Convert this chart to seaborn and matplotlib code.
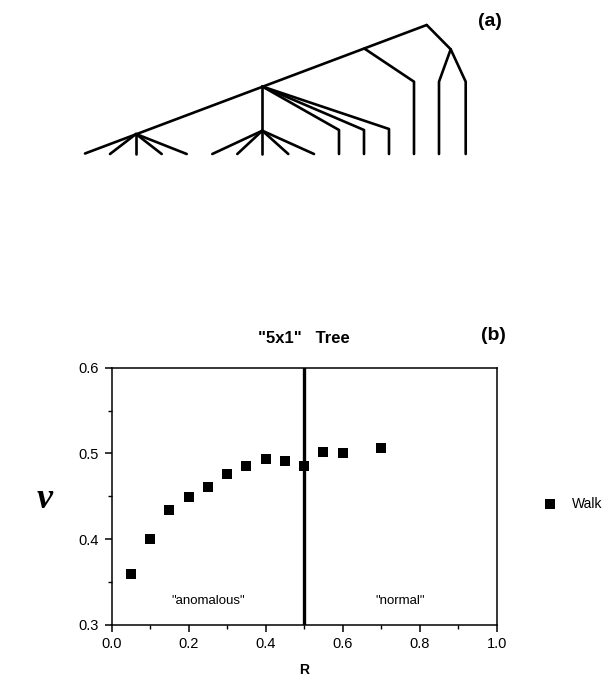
import matplotlib
matplotlib.use("Agg")
import matplotlib.pyplot as plt
import numpy as np
import pandas as pd
import seaborn as sns
from matplotlib.ticker import MultipleLocator, FormatStrFormatter

# panel (b) data
R_VALUES = [0.05, 0.10, 0.15, 0.20, 0.25, 0.30, 0.35, 0.40, 0.45, 0.50, 0.55, 0.60, 0.70]
NU_VALUES = [0.360, 0.400, 0.434, 0.449, 0.461, 0.476, 0.485, 0.493, 0.491, 0.485, 0.502, 0.500, 0.506]
SERIES_LABEL = "Walk"
R_CRITICAL = 0.5

# panel (a) tree, drawn in page units (x right, y down)
TREE_PATHS = [
    [(426.7, 25), (85, 153.5)],
    [(426.7, 25), (450.7, 49.3), (439, 81.7), (439, 154)],
    [(450.7, 49.3), (465.7, 81.7), (465.7, 154)],
    [(364.3, 48.5), (414, 81.7), (414, 154)],
    [(262.3, 86.5), (262.3, 130.7)],
    [(262.3, 86.5), (339, 130), (339, 154)],
    [(262.3, 86.5), (364, 130), (364, 154)],
    [(262.3, 86.5), (389, 129), (389, 154)],
    [(262.3, 130.7), (212.3, 154)],
    [(262.3, 130.7), (237.3, 154)],
    [(262.3, 130.7), (262.3, 154)],
    [(262.3, 130.7), (288.3, 154)],
    [(262.3, 130.7), (314, 154)],
    [(136, 134), (110, 154)],
    [(136, 134), (136, 154)],
    [(136, 134), (161.7, 154)],
    [(136, 134), (186.7, 154)],
]


def main():
    sns.set_theme(style="white")
    plt.rcParams["font.family"] = ["Liberation Sans", "DejaVu Sans"]
    plt.rcParams["text.color"] = "black"
    plt.rcParams["axes.labelcolor"] = "black"
    plt.rcParams["xtick.color"] = "black"
    plt.rcParams["ytick.color"] = "black"

    fig = plt.figure(figsize=(6.05, 6.77), dpi=100)

    # ---- panel (a): tree diagram
    rows = []
    for i, path in enumerate(TREE_PATHS):
        for j, (x, y) in enumerate(path):
            rows.append({"path": i, "order": j, "x": x, "y": y})
    df_tree = pd.DataFrame(rows)

    ax_a = fig.add_axes([0, 1 - 170 / 677, 1, 170 / 677])
    sns.lineplot(
        data=df_tree, x="x", y="y", units="path", estimator=None,
        sort=False, color="black", linewidth=1.9, ax=ax_a,
    )
    ax_a.set_xlim(0, 605)
    ax_a.set_ylim(170, 0)
    ax_a.axis("off")
    ax_a.text(490, 22, "(a)", fontsize=14, fontweight="bold", ha="center", va="center")

    # ---- panel (b): scatter
    df = pd.DataFrame({"R": R_VALUES, "nu": NU_VALUES})
    ax = fig.add_axes([111.7 / 605, 1 - 625 / 677, 385 / 605, 257.3 / 677])
    sns.scatterplot(
        data=df, x="R", y="nu", marker="s", s=48, color="black",
        edgecolor="black", linewidth=0, label=SERIES_LABEL, ax=ax, zorder=3,
    )
    ax.axvline(R_CRITICAL, color="black", linewidth=2.4, zorder=2)

    ax.set_xlim(0, 1.0)
    ax.set_ylim(0.3, 0.6)
    ax.xaxis.set_major_locator(MultipleLocator(0.2))
    ax.xaxis.set_minor_locator(MultipleLocator(0.1))
    ax.yaxis.set_major_locator(MultipleLocator(0.1))
    ax.yaxis.set_minor_locator(MultipleLocator(0.05))
    ax.xaxis.set_major_formatter(FormatStrFormatter("%.1f"))
    ax.yaxis.set_major_formatter(FormatStrFormatter("%.1f"))
    ax.tick_params(which="major", direction="out", length=5, width=1.1,
                   color="black", labelcolor="black", labelsize=10.5,
                   bottom=True, left=True, pad=4)
    ax.tick_params(which="minor", direction="out", length=3, width=1.0,
                   color="black", bottom=True, left=True)
    for spine in ax.spines.values():
        spine.set_color("black")
        spine.set_linewidth(1.1)
        spine.set_visible(True)

    ax.set_xlabel("R", fontsize=10, fontweight="bold", labelpad=8)
    ax.set_ylabel("")
    fig.text(45 / 605, 1 - 500 / 677, "ν", fontsize=26,
             ha="center", va="center", family=["Liberation Serif", "DejaVu Serif"],
             style="italic", fontweight="bold")

    ax.text(0.25, 0.328, '"anomalous"', fontsize=9.5, ha="center", va="center")
    ax.text(0.75, 0.328, '"normal"', fontsize=9.5, ha="center", va="center")

    ax.set_title('"5x1"   Tree', fontsize=12, fontweight="bold", pad=18)
    fig.text(493 / 605, 1 - 335 / 677, "(b)", fontsize=14, fontweight="bold",
             ha="center", va="center")

    leg = ax.legend(loc="center left", bbox_to_anchor=(1.07, 0.47), frameon=False,
                    fontsize=10, handletextpad=0.6, markerscale=1.0)
    for t in leg.get_texts():
        t.set_color("black")

    fig.savefig("out.png", dpi=100)


if __name__ == "__main__":
    main()
